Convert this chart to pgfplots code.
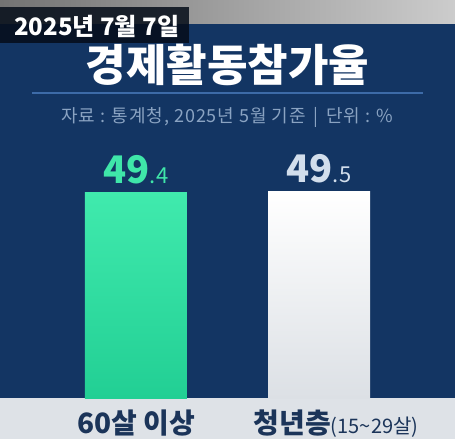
\documentclass[border=0pt]{standalone}
\usepackage{pgfplots}
\pgfplotsset{compat=1.18}
\usepackage{fontspec}
\setmainfont{Noto Sans CJK KR}
\newfontfamily\krsp[LetterSpace=5]{Noto Sans CJK KR}
\definecolor{navy}{HTML}{133563}
\definecolor{navyline}{HTML}{3D6BA8}
\definecolor{subgray}{HTML}{8AA3C2}
\definecolor{strip}{HTML}{DEE2E7}
\definecolor{labnavy}{HTML}{1B3459}
\definecolor{greenT}{HTML}{40EAAD}
\definecolor{greenB}{HTML}{22CF94}
\definecolor{greenlab}{HTML}{3FE6A9}
\definecolor{whitelab}{HTML}{D2DEEC}
\definecolor{whiteB}{HTML}{DCE0E5}
\begin{document}
\begin{tikzpicture}[x=1pt,y=1pt]
% backgrounds
\fill[left color=black!55, right color=black!20] (0,414) rectangle (455,439);
\fill[navy] (0,41) rectangle (455,415);
\fill[strip] (0,0) rectangle (455,41);
% date box
\fill[black!75!navy, opacity=0.85] (0,396) rectangle (189,432);
\node[anchor=base west, text=white, font=\fontsize{24}{26}\selectfont\bfseries, inner sep=0] at (14,403) {2025년 7월 7일};
% title
\node[anchor=base, text=white, font=\fontsize{44}{46}\selectfont\bfseries, inner sep=0] at (227.5,357) {경제활동참가율};
\draw[navyline, line width=2pt] (32,346) -- (423,346);
\node[anchor=base, text=subgray, font=\krsp\fontsize{18}{20}\selectfont, inner sep=0] at (227.5,316) {자료 : 통계청, 2025년 5월 기준 \,|\, 단위 : \%};
\begin{axis}[
  at={(0pt,41pt)}, anchor=south west,
  scale only axis, width=455pt, height=300pt,
  xmin=-0.743, xmax=1.743, ymin=0, ymax=72,
  axis line style={draw=none}, tick style={draw=none},
  ytick=\empty,
  xtick={0,1},
  xticklabels={{60살 이상},{\hspace*{34pt}청년층{\fontsize{20}{22}\selectfont\mdseries(15\textasciitilde29살)}}},
  xticklabel style={anchor=base, yshift=-31pt, text=labnavy, font=\fontsize{28}{30}\selectfont\bfseries},
  clip=false,
  ybar, bar width=102pt,
  nodes near coords style={anchor=base, yshift=9pt, inner sep=0},
]
\addplot[draw=none, bar shift=0pt, top color=greenT, bottom color=greenB,
  nodes near coords={\textcolor{greenlab}{\bfseries\fontsize{38}{40}\selectfont 49\mdseries\fontsize{22}{23}\selectfont.4}}]
  coordinates {(0,49.4)};
\addplot[draw=none, bar shift=0pt, top color=white, bottom color=whiteB,
  nodes near coords={\textcolor{whitelab}{\bfseries\fontsize{38}{40}\selectfont 49\mdseries\fontsize{22}{23}\selectfont.5}}]
  coordinates {(1,49.5)};
\end{axis}
\pgfresetboundingbox
\path[use as bounding box] (0,0) rectangle (455,439);
\end{tikzpicture}
\end{document}
